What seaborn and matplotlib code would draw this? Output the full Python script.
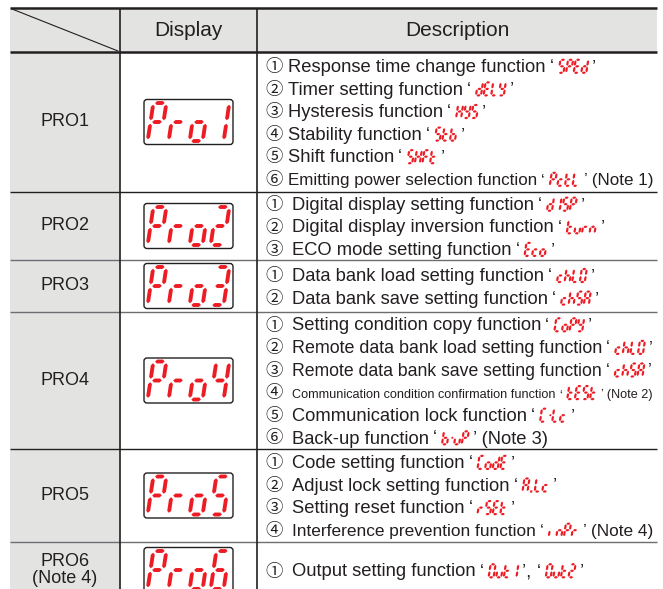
import matplotlib
matplotlib.use("Agg")
import matplotlib.pyplot as plt
from matplotlib.patches import Polygon, FancyBboxPatch, Rectangle
import seaborn as sns

sns.set_theme(style="white")
plt.rcParams['font.family'] = ['Liberation Sans', 'DejaVu Sans']

# ---- table content ----
headers = ["Display", "Description"]
modes = ["PRO1", "PRO2", "PRO3", "PRO4", "PRO5", "PRO6\n(Note 4)"]
display_codes = ["Pro1", "Pro2", "Pro3", "Pro4", "Pro5", "Pro6"]

pro1_items = [("Response time change function", ["SPEd"], ""),
              ("Timer setting function", ["dELY"], ""),
              ("Hysteresis function", ["HYS"], ""),
              ("Stability function", ["Stb"], ""),
              ("Shift function", ["SHFt"], ""),
              ("Emitting power selection function", ["PctL"], " (Note 1)")]
pro2_items = [("Digital display setting function", ["dISP"], ""),
              ("Digital display inversion function", ["turn"], ""),
              ("ECO mode setting function", ["Eco"], "")]
pro3_items = [("Data bank load setting function", ["chLO"], ""),
              ("Data bank save setting function", ["chSA"], "")]
pro4_items = [("Setting condition copy function", ["CoPY"], ""),
              ("Remote data bank load setting function", ["chLO"], ""),
              ("Remote data bank save setting function", ["chSA"], ""),
              ("Communication condition confirmation function", ["tESt"], " (Note 2)"),
              ("Communication lock function", ["C-Lc"], ""),
              ("Back-up function", ["b-uP"], " (Note 3)")]
pro5_items = [("Code setting function", ["CodE"], ""),
              ("Adjust lock setting function", ["A.Lc"], ""),
              ("Setting reset function", ["rSEt"], ""),
              ("Interference prevention function", ["inPr"], " (Note 4)")]
pro6_items = [("Output setting function", ["Out1", "Out2"], "")]
all_items = [pro1_items, pro2_items, pro3_items, pro4_items, pro5_items, pro6_items]
circled = ["①", "②", "③", "④", "⑤", "⑥"]

# seven segment maps
SEGMENTS = {'0': 'abcdef', 'O': 'abcdef', '1': 'bc', '2': 'abged', '3': 'abgcd',
            '4': 'fgbc', '5': 'afgcd', '6': 'afgedc', 'P': 'abefg', 'r': 'eg',
            'o': 'cdeg', 'S': 'afgcd', 'E': 'adefg', 'd': 'bcdeg', 'L': 'def',
            'Y': 'bcdfg', 'H': 'bcefg', 't': 'defg', 'b': 'cdefg', 'F': 'aefg',
            'c': 'deg', 'I': 'bc', 'i': 'e', 'u': 'cde', 'n': 'ceg', 'h': 'cefg',
            'A': 'abcefg', 'C': 'adef'}

# ---- layout ----
W, H = 663, 589
X0, X1, X2, X3 = 10, 120, 257, 657
Y_TOP, Y_HEAD = 8, 52
row_edges = [52, 192, 260, 312, 449, 542, 598]
row_line_colors = ["#231f20", "#6d6e71", "#6d6e71", "#231f20", "#6d6e71"]
LINE_GAP = 22.6
TEXT_LIMIT = 653
INK = "#231f20"
GREY = "#e3e4e2"
RED = "#ed1c24"
BIG = dict(h=38, w=13, pitch=21, t=3.9, g=1.7, k=0.15)
SMALL = dict(h=13, w=5.0, pitch=7.6, t=2.2, g=0.5, k=0.15)

fig = plt.figure(figsize=(W / 100, H / 100), dpi=100)
ax = fig.add_axes([0, 0, 1, 1])
ax.set_xlim(0, W)
ax.set_ylim(H, 0)
ax.axis('off')
renderer = fig.canvas.get_renderer()


def char_polys(ch, x, top, h, w, t, g, k):
    half = t / 2
    m = h / 2

    def hseg(yc, xa, xb):
        return [(xa, yc), (xa + half, yc - half), (xb - half, yc - half),
                (xb, yc), (xb - half, yc + half), (xa + half, yc + half)]

    def vseg(xc, ya, yb):
        return [(xc, ya), (xc + half, ya + half), (xc + half, yb - half),
                (xc, yb), (xc - half, yb - half), (xc - half, ya + half)]

    shapes = {'a': hseg(0, g, w - g), 'g': hseg(m, g, w - g), 'd': hseg(h, g, w - g),
              'f': vseg(0, g, m - g), 'e': vseg(0, m + g, h - g),
              'b': vseg(w, g, m - g), 'c': vseg(w, m + g, h - g)}
    if ch == '-':
        shapes['-'] = hseg(m, w * 0.1, w * 0.6)
        segs = '-'
    elif ch == '.':
        shapes['.'] = [(0, h - half), (t, h - half), (t, h + half), (0, h + half)]
        segs = '.'
    else:
        segs = SEGMENTS.get(ch, '')
    out = []
    for s in segs:
        out.append([(x + px + (h - py) * k, top + py) for px, py in shapes[s]])
    return out


def draw_code(x, top, code, p, made):
    start = x
    for ch in code:
        for pts in char_polys(ch, x, top, p['h'], p['w'], p['t'], p['g'], p['k']):
            made.append(ax.add_patch(Polygon(pts, closed=True, facecolor=RED, edgecolor='none')))
        if ch in '-.':
            x += p['pitch'] * 0.6
        else:
            x += p['pitch']
    return x - start - (p['pitch'] - p['w']) + p['h'] * p['k']


def put_text(x, y, s, size, made):
    t = ax.text(x, y, s, fontsize=size, va='baseline', ha='left', color=INK)
    made.append(t)
    return t.get_window_extent(renderer=renderer).x1


def draw_item(tx, base, label, codes, note, size):
    made = []
    x = put_text(tx, base, label, size, made) + 4
    for c_i, code in enumerate(codes):
        x = put_text(x, base, "‘", size, made) + 5
        x += draw_code(x, base - SMALL['h'] + 0.8, code, SMALL, made) + 4
        tail = "’" if c_i == len(codes) - 1 else "’, "
        if c_i == len(codes) - 1:
            tail += note
        x = put_text(x, base, tail, size, made)
    return x, made


# ---- grid ----
ax.add_patch(Rectangle((X0, Y_TOP), X3 - X0, Y_HEAD - Y_TOP, facecolor=GREY, edgecolor='none'))
ax.add_patch(Rectangle((X0, Y_HEAD), X1 - X0, H - Y_HEAD, facecolor=GREY, edgecolor='none'))
ax.plot([X0, X3], [Y_TOP, Y_TOP], color=INK, lw=1.8, solid_capstyle='butt')
ax.plot([X0, X3], [Y_HEAD, Y_HEAD], color=INK, lw=1.8, solid_capstyle='butt')
for ye, lc in zip(row_edges[1:-1], row_line_colors):
    ax.plot([X0, X3], [ye, ye], color=lc, lw=1.0, solid_capstyle='butt')
for xe in (X1, X2):
    ax.plot([xe, xe], [Y_TOP, H], color=INK, lw=1.2, solid_capstyle='butt')
ax.plot([X0 + 2, X1 - 2], [Y_TOP + 1, Y_HEAD - 1], color=INK, lw=0.8)

ax.text((X1 + X2) / 2, (Y_TOP + Y_HEAD) / 2 + 1, headers[0], fontsize=15,
        ha='center', va='center', color=INK)
ax.text((X2 + X3) / 2, (Y_TOP + Y_HEAD) / 2 + 1, headers[1], fontsize=15,
        ha='center', va='center', color=INK)

# ---- rows ----
for i, (mode, disp, items) in enumerate(zip(modes, display_codes, all_items)):
    top, bot = row_edges[i], row_edges[i + 1]
    yc = (top + bot) / 2
    ax.text((X0 + X1) / 2, yc, mode, fontsize=13, ha='center', va='center',
            color=INK, linespacing=1.05)

    # display box
    bw, bh = 89, 45
    bx, by = (X1 + X2) / 2 - bw / 2, yc - bh / 2
    ax.add_patch(FancyBboxPatch((bx, by), bw, bh, boxstyle="round,pad=0,rounding_size=3",
                                facecolor='white', edgecolor=INK, lw=1.0))
    total = 3 * BIG['pitch'] + BIG['w'] + BIG['h'] * BIG['k']
    draw_code(bx + (bw - total) / 2, yc - BIG['h'] / 2, disp, BIG, [])

    # description lines
    n = len(items)
    tx = 288 if i == 0 else 292
    for j, (label, codes, note) in enumerate(items):
        ly = yc + (j - (n - 1) / 2) * LINE_GAP
        base = ly + 6.5
        ax.text(265, base, circled[j], fontsize=12.5, va='baseline', ha='left',
                color=INK, family=['Noto Sans CJK JP', 'DejaVu Sans'])
        size = 9.5 if len(label) > 42 else 13.2
        x_end, made = draw_item(tx, base, label, codes, note, size)
        if x_end > TEXT_LIMIT:
            for a in made:
                a.remove()
            size = size * (TEXT_LIMIT - tx - 45) / (x_end - tx - 45)
            draw_item(tx, base, label, codes, note, size)

fig.savefig("out.png", dpi=100)
